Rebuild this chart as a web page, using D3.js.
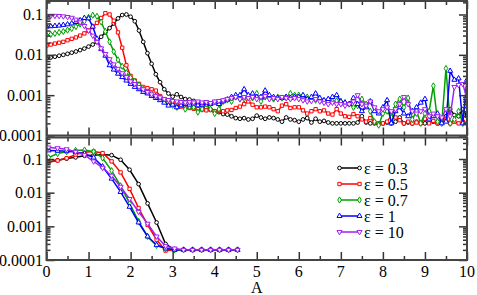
<!DOCTYPE html>
<html>
<head>
<meta charset="utf-8">
<script src="https://cdn.jsdelivr.net/npm/d3@7"></script>
<style>
body { margin: 0; background: #fff; }
.chart text { font-family: "Liberation Serif", "Times New Roman", serif; font-size: 16px; fill: #000; }
</style>
</head>
<body>
<div class="chart"></div>
<script>
// series names
var labels = ["\u03b5 = 0.3", "\u03b5 = 0.5", "\u03b5 = 0.7", "\u03b5 = 1", "\u03b5 = 10"];

// top panel, sampled every 0.1 in A
var topX = d3.range(101).map(function(i){ return i / 10; });

var top03 = [0.0082, 0.0086, 0.009, 0.0095, 0.01, 0.0106, 0.0113, 0.0121, 0.0131, 0.0143,
  0.016, 0.018, 0.021, 0.028, 0.036, 0.046, 0.06, 0.08, 0.097, 0.1,
  0.088, 0.068, 0.04, 0.021, 0.011, 0.006, 0.0033, 0.0021, 0.0014, 0.0011,
  0.00092, 0.00105, 0.0009, 0.0008, 0.00078, 0.00072, 0.0006, 0.00055, 0.0005, 0.00045,
  0.0004, 0.00038, 0.00034, 0.00033, 0.0003, 0.00027, 0.00026, 0.00027, 0.00025, 0.00026,
  0.00031, 0.00028, 0.00026, 0.00028, 0.00027, 0.00025, 0.00022, 0.00028, 0.00025, 0.00024,
  0.00022, 0.00025, 0.00027, 0.00021, 0.00026, 0.00022, 0.00023, 0.00021, 0.0002, 0.0002,
  0.0002, 0.0002, 0.0002, 0.0002, 0.00021, 0.0003, 0.00021, 0.0002, 0.0002, 0.00019,
  0.0002, 0.00021, 0.0002, 0.00022, 0.00028, 0.0002, 0.00021, 0.0002, 0.00022, 0.0002,
  0.0002, 0.00021, 0.00022, 0.0002, 0.00024, 0.0003, 0.00045, 0.00032, 0.0003, 0.00045,
  0.0003];

var top05 = [0.017, 0.018, 0.019, 0.02, 0.021, 0.023, 0.025, 0.027, 0.03, 0.034,
  0.04, 0.049, 0.062, 0.082, 0.108, 0.1, 0.07, 0.036, 0.015, 0.0055,
  0.003, 0.0023, 0.0019, 0.0016, 0.0015, 0.0014, 0.0013, 0.00095, 0.0008, 0.0007,
  0.00062, 0.00058, 0.00052, 0.0005, 0.00048, 0.00046, 0.00045, 0.00044, 0.00042, 0.00043,
  0.0004, 0.00041, 0.0004, 0.00042, 0.00043, 0.00048, 0.00052, 0.0006, 0.0007, 0.00058,
  0.0005, 0.0005, 0.00052, 0.0005, 0.00045, 0.0004, 0.00055, 0.0006, 0.00048, 0.0005,
  0.0005, 0.00042, 0.00035, 0.0004, 0.00045, 0.0004, 0.00042, 0.00035, 0.00033, 0.00045,
  0.00035, 0.0003, 0.00029, 0.00034, 0.0003, 0.00025, 0.00022, 0.00027, 0.00021, 0.0002,
  0.0002, 0.00022, 0.00032, 0.00028, 0.00024, 0.0002, 0.00022, 0.0002, 0.00021, 0.0002,
  0.00026, 0.0002, 0.00023, 0.0002, 0.00022, 0.00026, 0.0002, 0.00022, 0.0002, 0.00022,
  0.0002];

var top07 = [0.031, 0.032, 0.034, 0.036, 0.038, 0.041, 0.045, 0.05, 0.058, 0.068,
  0.085, 0.096, 0.09, 0.065, 0.038, 0.021, 0.012, 0.0075, 0.0052, 0.0036,
  0.0027, 0.0022, 0.0018, 0.0014, 0.0012, 0.0011, 0.00095, 0.00085, 0.00075, 0.00065,
  0.00056, 0.0005, 0.00058, 0.00045, 0.00052, 0.0005, 0.00038, 0.00045, 0.0006, 0.00045,
  0.00035, 0.00045, 0.0007, 0.00076, 0.0007, 0.0009, 0.0008, 0.0008, 0.0009, 0.00085,
  0.0011, 0.0007, 0.0009, 0.00085, 0.0008, 0.0009, 0.00085, 0.0009, 0.0011, 0.001,
  0.001, 0.00095, 0.0009, 0.0008, 0.00075, 0.00075, 0.0007, 0.0007, 0.0007, 0.00072,
  0.0007, 0.00065, 0.0006, 0.0005, 0.00055, 0.0008, 0.0006, 0.0004, 0.00022, 0.00018,
  0.00035, 0.0004, 0.00028, 0.0006, 0.0008, 0.0005, 0.00085, 0.00025, 0.0004, 0.0002,
  0.00035, 0.0004, 0.0017, 0.00022, 0.0002, 0.0046, 0.0002, 0.00025, 0.0004, 0.0002,
  0.0021];

var top1 = [0.05, 0.051, 0.052, 0.053, 0.055, 0.057, 0.06, 0.065, 0.072, 0.082,
  0.08, 0.05, 0.025, 0.014, 0.0095, 0.0055, 0.0043, 0.0034, 0.0028, 0.0023,
  0.0019, 0.0016, 0.0014, 0.0012, 0.0011, 0.00095, 0.00085, 0.00075, 0.00065, 0.00055,
  0.00058, 0.0005, 0.00056, 0.0006, 0.00058, 0.00062, 0.00056, 0.00058, 0.00064, 0.0006,
  0.00065, 0.0006, 0.0007, 0.00078, 0.0009, 0.001, 0.001, 0.0014, 0.001, 0.0011,
  0.0009, 0.0009, 0.0013, 0.001, 0.0009, 0.00085, 0.00085, 0.0009, 0.00085, 0.0009,
  0.0009, 0.001, 0.0008, 0.0009, 0.0011, 0.00085, 0.00075, 0.0008, 0.0009, 0.001,
  0.0007, 0.00065, 0.0006, 0.00085, 0.0006, 0.0004, 0.0005, 0.0007, 0.0004, 0.00035,
  0.0005, 0.00075, 0.0002, 0.0004, 0.0005, 0.00035, 0.0003, 0.0004, 0.0005, 0.00065,
  0.0008, 0.00025, 0.0003, 0.00035, 0.0002, 0.00022, 0.004, 0.0024, 0.0026, 0.0002,
  0.0024];

var top10 = [0.092, 0.093, 0.093, 0.092, 0.09, 0.087, 0.083, 0.075, 0.064, 0.052,
  0.04, 0.03, 0.021, 0.0145, 0.0105, 0.0078, 0.0058, 0.0045, 0.0035, 0.0028,
  0.0022, 0.0019, 0.0016, 0.0014, 0.0012, 0.00105, 0.00095, 0.00088, 0.0008, 0.00076,
  0.00072, 0.0007, 0.00068, 0.00066, 0.00068, 0.00066, 0.0007, 0.00066, 0.00068, 0.00064,
  0.0007, 0.00072, 0.00075, 0.0008, 0.00085, 0.0009, 0.0008, 0.0009, 0.00085, 0.0009,
  0.0008, 0.0009, 0.00095, 0.0008, 0.00085, 0.0008, 0.0009, 0.00085, 0.0008, 0.00085,
  0.0008, 0.00075, 0.0007, 0.00072, 0.0008, 0.0007, 0.00065, 0.0006, 0.00065, 0.0006,
  0.0006, 0.00055, 0.0006, 0.0007, 0.001, 0.0006, 0.00055, 0.0007, 0.0005, 0.0004,
  0.00045, 0.0005, 0.0004, 0.00045, 0.0006, 0.0009, 0.0006, 0.0004, 0.00035, 0.0004,
  0.00045, 0.0003, 0.00035, 0.0003, 0.00028, 0.00045, 0.0003, 0.0016, 0.0018, 0.0019,
  0.0008];

// bottom panel, coarser sampling
var botX = d3.range(22).map(function(i){ return 0.05 + 0.214 * i; });

var bot03 = [0.082, 0.092, 0.103, 0.112, 0.125, 0.13, 0.137, 0.13, 0.095, 0.048, 0.018,
  0.0048, 0.0013, 0.0003, 0.0002, 0.0002, 0.0002, 0.0002, 0.0002, 0.0002, 0.0002, 0.0002];
var bot05 = [0.08, 0.09, 0.105, 0.135, 0.16, 0.168, 0.15, 0.085, 0.04, 0.013, 0.0035,
  0.0011, 0.0004, 0.00019, 0.0002, 0.0002, 0.0002, 0.0002, 0.0002, 0.0002, 0.0002, 0.0002];
var bot07 = [0.11, 0.145, 0.165, 0.18, 0.185, 0.165, 0.107, 0.045, 0.016, 0.0048, 0.0014,
  0.0005, 0.00027, 0.00022, 0.0002, 0.0002, 0.0002, 0.0002, 0.0002, 0.0002, 0.0002, 0.0002];
var bot1 = [0.18, 0.175, 0.17, 0.16, 0.145, 0.11, 0.06, 0.026, 0.0105, 0.0038, 0.0013,
  0.0005, 0.00028, 0.00022, 0.0002, 0.0002, 0.0002, 0.0002, 0.0002, 0.0002, 0.0002, 0.0002];
var bot10 = [0.22, 0.21, 0.195, 0.165, 0.13, 0.085, 0.055, 0.032, 0.015, 0.0065, 0.0027,
  0.0012, 0.0005, 0.00026, 0.00022, 0.0002, 0.0002, 0.0002, 0.0002, 0.0002, 0.0002, 0.0002];

// ticks
var xTicks = [0, 1, 2, 3, 4, 5, 6, 7, 8, 9, 10];
var xMinor = [0.5, 1.5, 2.5, 3.5, 4.5, 5.5, 6.5, 7.5, 8.5, 9.5];
var yTicks = [0.1, 0.01, 0.001, 0.0001];
var yTickLabels = ["0.1", "0.01", "0.001", "0.0001"];
var xaxistext = "A";

var topSeries = [top03, top05, top07, top1, top10];
var botSeries = [bot03, bot05, bot07, bot1, bot10];

// styles
var colors = ["#000000", "#ff0000", "#00a000", "#0000ff", "#a020f0"];
var shapes = [d3.symbolCircle, d3.symbolSquare, d3.symbolDiamond, d3.symbolTriangle, d3.symbolTriangle];
var sizes = [11, 11, 11, 11, 11];
var rotate = [0, 0, 0, 0, 180];

var W = 477, H = 295;
var left = 46.5, right = 467;

var svg = d3.select(".chart").append("svg")
    .attr("width", W)
    .attr("height", H);

var x = d3.scaleLinear().domain([0, 10]).range([left, right]);

var panels = [
  { y: d3.scaleLog().domain([1e-4, 0.1]).range([135.5, 14.5]), top: 1, bottom: 135.5, series: topSeries, xs: topX },
  { y: d3.scaleLog().domain([1e-4, 0.1]).range([260, 159]), top: 137.5, bottom: 260, series: botSeries, xs: botX }
];

// minor log ticks 2..9 per decade
var yMinor = [];
[-5, -4, -3, -2, -1].forEach(function(e){
  for (var k = 2; k <= 9; k++) yMinor.push(k * Math.pow(10, e));
});

function marker(g, i, cx, cy) {
  g.append("path")
    .attr("d", d3.symbol().type(shapes[i]).size(sizes[i]))
    .attr("transform", "translate(" + cx + "," + cy + ") rotate(" + rotate[i] + ")")
    .attr("fill", "#fff")
    .attr("stroke", colors[i])
    .attr("stroke-width", 1);
}

panels.forEach(function(p, pi){
  var g = svg.append("g");

  g.append("clipPath").attr("id", "clip" + pi)
    .append("rect")
    .attr("x", left).attr("y", p.top)
    .attr("width", right - left).attr("height", p.bottom - p.top);

  var plot = g.append("g").attr("clip-path", "url(#clip" + pi + ")");

  var line = d3.line()
      .x(function(d){ return x(d[0]); })
      .y(function(d){ return p.y(d[1]); });

  p.series.forEach(function(vals, si){
    var pts = vals.map(function(v, k){ return [p.xs[k], v]; });
    plot.append("path")
      .datum(pts)
      .attr("d", line)
      .attr("fill", "none")
      .attr("stroke", colors[si])
      .attr("stroke-width", 1.5);
    var mg = plot.append("g");
    pts.forEach(function(d){ marker(mg, si, x(d[0]), p.y(d[1])); });
  });

  var inside = function(v){ var yy = p.y(v); return yy >= p.top + 1 && yy <= p.bottom - 1; };

  // ticks, all pointing inward
  var ax = [
    [d3.axisBottom(x).tickValues(xTicks).tickSize(-8), "translate(0," + p.bottom + ")"],
    [d3.axisBottom(x).tickValues(xMinor).tickSize(-4), "translate(0," + p.bottom + ")"],
    [d3.axisTop(x).tickValues(xTicks).tickSize(-8), "translate(0," + p.top + ")"],
    [d3.axisTop(x).tickValues(xMinor).tickSize(-4), "translate(0," + p.top + ")"],
    [d3.axisLeft(p.y).tickValues(yTicks).tickSize(-8), "translate(" + left + ",0)"],
    [d3.axisLeft(p.y).tickValues(yMinor.filter(inside)).tickSize(-4), "translate(" + left + ",0)"],
    [d3.axisRight(p.y).tickValues(yTicks).tickSize(-8), "translate(" + right + ",0)"],
    [d3.axisRight(p.y).tickValues(yMinor.filter(inside)).tickSize(-4), "translate(" + right + ",0)"]
  ];
  ax.forEach(function(a){
    var ag = g.append("g").attr("transform", a[1]).call(a[0].tickFormat("").tickSizeOuter(0));
    ag.select(".domain").remove();
    ag.selectAll("line").attr("stroke", "#333").attr("stroke-width", 1.5);
  });

  // frame
  g.append("rect")
    .attr("x", left).attr("y", p.top)
    .attr("width", right - left).attr("height", p.bottom - p.top)
    .attr("fill", "none")
    .attr("stroke", "#444")
    .attr("stroke-width", 2);

  // y labels
  g.selectAll(".ylab")
    .data(yTicks)
    .enter().append("text")
    .attr("class", "ylab")
    .attr("x", left - 3.5)
    .attr("y", function(d){ return p.y(d); })
    .attr("dy", "0.35em")
    .style("text-anchor", "end")
    .text(function(d, k){ return yTickLabels[k]; });
});

// x tick labels
svg.selectAll(".xlab")
  .data(xTicks)
  .enter().append("text")
  .attr("class", "xlab")
  .attr("x", function(d){ return x(d); })
  .attr("y", 277)
  .style("text-anchor", "middle")
  .text(function(d){ return d; });

// text label for the x axis
svg.append("text")
  .attr("x", x(5))
  .attr("y", 293)
  .style("text-anchor", "middle")
  .text(xaxistext);

// legend
var legend = svg.append("g");
labels.forEach(function(name, i){
  var ly = 168 + 16 * i;
  legend.append("line")
    .attr("x1", 339.5).attr("x2", 359.5)
    .attr("y1", ly).attr("y2", ly)
    .attr("stroke", colors[i])
    .attr("stroke-width", 1.5);
  marker(legend, i, 339.5, ly);
  marker(legend, i, 359.5, ly);
  legend.append("text")
    .attr("x", 364)
    .attr("y", ly)
    .attr("dy", "0.35em")
    .text(name);
});
</script>
</body>
</html>
